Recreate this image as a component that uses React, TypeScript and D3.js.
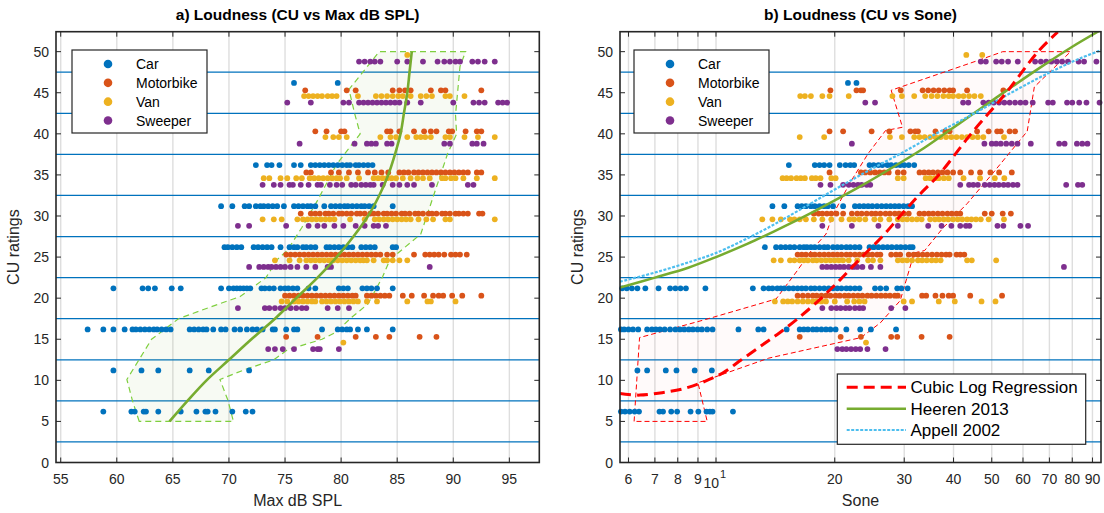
import React from 'react';
import * as d3 from 'd3';

type Row = { cu: number; x: number[] };

const categories = ['Car', 'Motorbike', 'Van', 'Sweeper'];
const catColors = ['#0072bd', '#d95319', '#edb120', '#7e2f8e'];

const cuTicks = [0, 5, 10, 15, 20, 25, 30, 35, 40, 45, 50];
const bandLines = [2.5, 7.5, 12.5, 17.5, 22.5, 27.5, 32.5, 37.5, 42.5, 47.5];
const splTicks = [55, 60, 65, 70, 75, 80, 85, 90, 95];
const soneTicks = [6, 7, 8, 9, 10, 20, 30, 40, 50, 60, 70, 80, 90];

// panel a: max dB SPL per rating row
const carSpl: Row[] = [
  { cu: 46.2, x: [75.8, 79.7] },
  { cu: 36.2, x: [72.4, 73.4, 73.8, 74.5, 75.8, 76.4, 77.3, 77.7, 78.1, 78.5, 78.9, 79.3, 79.7, 80.1, 80.5, 80.8, 81.3, 81.6, 82.0, 82.4, 82.8] },
  { cu: 31.2, x: [69.3, 70.3, 71.4, 71.8, 72.4, 72.8, 73.1, 73.5, 73.9, 74.3, 74.9, 75.8, 76.2, 76.6, 77.0, 77.3, 77.7, 78.5, 79.1, 79.5, 79.9, 80.3, 80.6, 81.0, 81.4, 81.8, 82.1, 82.5, 82.9, 84.6] },
  { cu: 26.2, x: [69.6, 69.9, 70.3, 70.7, 71.1, 72.2, 72.6, 73.0, 73.4, 73.8, 74.6, 75.4, 75.8, 76.1, 76.6, 76.9, 77.3, 77.7, 78.7, 79.0, 79.4, 79.8, 80.2, 80.6, 81.0, 81.8, 82.2, 82.6, 83.0, 84.6, 84.9] },
  { cu: 21.2, x: [59.7, 62.3, 62.8, 63.4, 64.9, 65.7, 69.3, 70.0, 70.4, 70.7, 71.0, 71.3, 71.6, 71.9, 72.9, 73.2, 73.6, 74.0, 74.6, 75.0, 75.3, 75.7, 76.1, 77.1, 77.7, 79.8, 80.2, 80.6, 81.9, 82.3, 82.7, 83.2, 84.6] },
  { cu: 16.2, x: [57.4, 58.8, 59.7, 60.7, 61.4, 61.7, 62.1, 62.5, 62.9, 63.3, 63.6, 64.0, 64.4, 64.8, 66.5, 66.9, 67.3, 67.7, 68.0, 68.6, 69.3, 69.7, 70.5, 71.0, 71.6, 72.1, 72.5, 73.0, 73.9, 74.1, 75.1, 75.8, 76.1, 78.3, 79.7, 80.1, 80.5, 80.8, 81.5, 82.3, 84.6] },
  { cu: 11.2, x: [59.7, 62.2, 63.7, 66.5, 68.2, 71.8] },
  { cu: 6.2, x: [58.8, 61.3, 61.6, 62.4, 62.6, 63.7, 65.7, 67.1, 67.9, 68.1, 68.8, 70.3, 71.5, 72.1] },
];
const motoSpl: Row[] = [
  { cu: 45.3, x: [76.8, 80.5, 81.3, 84.6, 85.2, 85.7, 86.2, 88.0, 88.9, 89.3, 92.5] },
  { cu: 40.3, x: [77.7, 78.7, 80.0, 80.3, 84.1, 84.4, 85.2, 86.5, 87.4, 88.0, 88.5, 89.6, 89.9, 91.1, 92.1, 92.5] },
  { cu: 35.3, x: [76.9, 77.3, 79.1, 79.8, 80.7, 81.5, 82.4, 83.0, 83.6, 84.2, 85.2, 85.6, 86.0, 86.5, 86.9, 87.3, 87.7, 88.1, 88.5, 88.9, 89.3, 89.7, 90.1, 90.5, 90.9, 91.3, 92.1, 92.5] },
  { cu: 30.3, x: [76.4, 77.3, 77.7, 78.1, 78.6, 78.9, 79.3, 79.8, 80.1, 80.5, 80.9, 81.4, 81.7, 82.1, 82.6, 82.9, 83.3, 83.8, 84.1, 84.5, 84.9, 85.4, 85.7, 86.1, 86.6, 86.9, 87.3, 87.8, 88.1, 88.5, 89.0, 89.3, 89.7, 90.2, 90.5, 90.9, 91.3, 92.3, 92.6] },
  { cu: 25.3, x: [75.1, 75.5, 75.9, 76.3, 76.7, 77.1, 77.5, 77.9, 78.3, 78.7, 79.1, 79.5, 79.9, 80.3, 80.7, 81.1, 81.5, 81.9, 82.3, 82.7, 83.1, 83.5, 84.1, 84.6, 86.5, 87.5, 87.9, 88.3, 88.7, 89.2, 89.8, 90.2, 90.6, 91.2] },
  { cu: 20.3, x: [75.0, 75.4, 75.8, 76.2, 76.6, 77.0, 77.4, 77.8, 78.2, 78.6, 79.0, 79.4, 79.8, 80.2, 80.6, 81.0, 81.3, 82.3, 82.7, 83.1, 83.5, 83.9, 84.3, 85.5, 86.3, 87.4, 88.2, 88.7, 89.1, 89.9, 90.8, 92.5] },
  { cu: 15.3, x: [75.1, 77.9, 81.3, 83.1, 84.3, 87.0, 88.5] },
];
const vanSpl: Row[] = [
  { cu: 49.6, x: [85.9] },
  { cu: 44.6, x: [76.7, 77.1, 77.5, 77.9, 78.3, 78.8, 79.2, 79.6, 81.5, 83.1, 83.6, 84.1, 84.6, 85.1, 85.5, 86.2, 87.1, 87.6, 88.1, 89.3, 89.7, 91.0] },
  { cu: 39.6, x: [78.6, 79.3, 79.8, 80.5, 83.5, 84.4, 84.9, 85.9, 86.7, 87.1, 87.5, 88.0, 89.3, 89.7, 91.0, 92.2, 93.7] },
  { cu: 34.6, x: [73.1, 73.6, 74.6, 75.2, 76.0, 76.5, 77.2, 77.6, 78.0, 78.4, 78.8, 79.2, 79.6, 79.9, 80.5, 81.6, 82.9, 83.3, 83.7, 84.1, 84.5, 84.9, 85.5, 86.2, 86.8, 87.3, 87.9, 89.0, 89.3, 89.8, 90.2, 90.9, 92.1, 93.7] },
  { cu: 29.6, x: [73.0, 74.0, 74.7, 76.1, 76.6, 77.0, 77.4, 77.8, 78.2, 78.6, 79.0, 79.4, 80.8, 82.1, 83.0, 83.4, 83.8, 84.2, 84.6, 85.0, 85.4, 85.8, 86.2, 86.9, 87.6, 88.2, 89.3, 89.7, 93.7] },
  { cu: 24.6, x: [74.1, 75.4, 76.3, 76.9, 77.3, 77.7, 78.1, 78.5, 78.9, 79.3, 79.7, 80.1, 80.5, 80.9, 81.3, 81.7, 82.0, 82.3, 82.9, 83.8, 84.1, 84.6, 85.2, 85.9] },
  { cu: 19.6, x: [74.7, 75.2, 75.8, 76.2, 76.6, 77.0, 77.4, 77.7, 78.3, 78.7, 79.1, 79.5, 79.9, 80.3, 80.7, 81.1, 81.5, 82.3, 83.2, 85.9, 87.7, 88.0, 90.2] },
  { cu: 14.6, x: [80.2] },
];
const sweepSpl: Row[] = [
  { cu: 48.8, x: [81.6, 82.1, 82.6, 83.0, 83.5, 85.0, 85.9, 87.3, 88.6, 89.2, 89.7, 90.2, 90.6, 91.7, 92.2, 92.8, 93.7] },
  { cu: 43.8, x: [75.2, 77.3, 80.2, 80.7, 81.6, 82.0, 82.4, 82.8, 83.2, 83.6, 84.0, 84.4, 84.8, 85.2, 85.9, 87.1, 90.0, 91.8, 92.3, 92.8, 94.0, 94.4, 94.8] },
  { cu: 38.8, x: [76.3, 81.2, 82.3, 82.7, 83.1, 84.1, 84.5, 89.2, 89.7, 91.7, 92.1, 92.7] },
  { cu: 33.8, x: [73.0, 74.0, 74.6, 75.4, 75.7, 76.4, 77.1, 77.9, 78.2, 79.0, 79.6, 80.1, 80.9, 81.3, 81.8, 82.2, 82.6, 82.9, 83.7, 84.6, 85.2, 85.9, 86.5, 88.1, 91.3, 91.8] },
  { cu: 28.8, x: [70.8, 71.8, 75.1, 77.1, 77.9, 78.5, 79.4, 80.2, 81.3, 82.1, 82.9, 83.3, 84.0] },
  { cu: 23.8, x: [71.8, 72.7, 73.1, 73.5, 73.8, 74.2, 74.6, 75.0, 75.5, 76.1, 76.9, 77.7, 78.8, 79.1, 87.9] },
  { cu: 18.8, x: [70.8, 73.2, 73.6, 74.1, 74.6, 75.0, 75.5, 76.0, 76.5, 76.9, 78.8, 79.7, 80.7] },
  { cu: 13.8, x: [73.5, 74.1, 74.8, 75.8, 77.5, 77.9, 78.1, 79.8] },
];

// panel b: loudness in sone per rating row
const carSone: Row[] = [
  { cu: 46.2, x: [21.6, 22.7] },
  { cu: 36.2, x: [15.3, 17.8, 18.3, 18.8, 19.4, 20.6, 21.3, 21.9, 22.4, 24.5, 25.1, 25.8, 26.4, 27.2, 27.8, 28.6, 29.3, 30.0, 30.8, 31.8] },
  { cu: 31.2, x: [13.9, 14.9, 16.1, 16.5, 16.9, 17.4, 17.8, 18.3, 18.8, 19.2, 19.8, 21.0, 22.5, 23.1, 23.7, 24.3, 24.9, 25.6, 26.3, 27.0, 27.7, 28.4, 29.1, 29.9, 30.7, 31.4] },
  { cu: 26.2, x: [13.3, 14.2, 14.6, 15.0, 15.4, 15.8, 16.3, 16.7, 17.0, 17.4, 17.8, 18.3, 18.8, 19.2, 19.8, 20.3, 20.8, 21.4, 21.9, 22.5, 23.1, 24.5, 25.1, 25.8, 26.5, 27.2, 27.9, 28.7, 29.4, 30.2, 31.0, 31.5] },
  { cu: 21.2, x: [5.78, 5.94, 6.12, 6.32, 6.62, 7.15, 7.65, 7.89, 8.13, 8.39, 9.40, 12.4, 13.2, 13.6, 13.9, 14.3, 14.6, 14.9, 15.3, 15.7, 16.1, 16.5, 16.9, 17.4, 17.8, 18.3, 18.8, 19.3, 19.8, 20.3, 20.8, 21.4, 21.9, 22.5, 23.1, 25.3, 26.1, 27.0, 28.8, 29.5, 30.6] },
  { cu: 16.2, x: [5.74, 5.85, 6.0, 6.16, 6.35, 6.69, 6.88, 7.04, 7.21, 7.41, 7.65, 7.89, 8.10, 8.31, 8.53, 8.74, 8.98, 9.21, 9.50, 9.80, 11.4, 12.8, 13.2, 15.1, 16.3, 16.7, 17.1, 17.6, 18.0, 18.5, 19.0, 19.5, 20.1, 21.4, 23.2, 24.7, 28.6] },
  { cu: 11.2, x: [6.32, 6.69, 7.46, 7.94, 8.83, 9.76] },
  { cu: 6.2, x: [5.74, 5.88, 6.04, 6.22, 6.38, 7.19, 7.34, 7.70, 7.97, 8.62, 9.02, 9.46, 9.65, 9.80, 11.04] },
];
const motoSone: Row[] = [
  { cu: 45.3, x: [19.5, 22.7, 23.3, 23.6, 29.4, 33.4, 34.5, 35.6, 36.7, 37.9, 39.1, 39.9, 43.3, 53.5] },
  { cu: 40.3, x: [19.4, 21.0, 24.8, 27.5, 31.1, 32.0, 32.5, 36.0, 38.1, 39.1, 45.9, 49.1, 51.6, 52.7, 55.5, 57.3] },
  { cu: 35.3, x: [19.4, 23.3, 23.9, 24.6, 25.3, 26.0, 26.7, 27.4, 28.9, 29.9, 32.8, 33.7, 34.6, 35.5, 36.5, 37.5, 38.6, 39.9, 41.6, 44.3, 46.7, 49.6, 52.2, 56.2] },
  { cu: 30.3, x: [17.7, 18.2, 18.6, 19.1, 19.6, 20.2, 21.0, 22.1, 22.8, 23.4, 24.1, 24.8, 25.4, 26.1, 26.9, 27.6, 28.4, 29.1, 29.9, 30.8, 32.8, 33.7, 34.6, 35.5, 36.5, 37.5, 38.6, 39.6, 40.7, 41.6, 48.0, 50.0, 53.3, 55.9] },
  { cu: 25.3, x: [16.1, 16.5, 16.9, 17.4, 17.8, 18.3, 18.8, 19.3, 19.8, 20.3, 20.8, 21.4, 21.9, 22.5, 23.1, 23.7, 24.3, 24.9, 25.6, 26.1, 27.8, 28.6, 29.3, 30.8, 31.7, 32.5, 33.4, 34.3, 35.3, 36.3, 37.3, 38.3, 39.1, 40.7, 41.6, 42.6] },
  { cu: 20.3, x: [16.1, 16.6, 17.1, 17.6, 18.0, 18.5, 19.0, 19.5, 20.1, 20.6, 21.2, 21.7, 22.3, 22.9, 23.5, 24.2, 24.8, 25.5, 26.2, 26.9, 27.6, 28.4, 28.9, 33.3, 34.1, 36.0, 37.5, 38.9, 39.9, 44.1, 53.1] },
  { cu: 15.3, x: [16.3, 20.7, 23.3, 27.8, 28.8, 33.2, 39.1] },
];
const vanSone: Row[] = [
  { cu: 49.6, x: [43.1, 47.3] },
  { cu: 44.6, x: [16.35, 16.8, 17.4, 18.6, 19.4, 21.7, 28.0, 29.6, 31.8, 33.9, 35.2, 36.4, 37.7, 38.9, 39.9, 41.2, 42.4, 43.8, 45.2, 46.9] },
  { cu: 39.6, x: [16.3, 18.8, 27.6, 29.6, 31.8, 32.8, 33.8, 34.9, 36.0, 37.1, 38.3, 39.5, 40.7, 42.0, 43.3, 44.7, 46.1, 47.6, 53.7] },
  { cu: 34.6, x: [14.75, 15.1, 15.5, 16.0, 16.4, 16.8, 17.5, 17.9, 18.4, 19.6, 20.1, 28.9, 29.9, 34.0, 34.9, 35.9, 36.7, 37.8, 38.9, 42.4, 46.7, 50.9, 53.8] },
  { cu: 29.6, x: [13.1, 13.9, 14.6, 15.4, 15.8, 16.3, 16.9, 17.7, 18.6, 19.6, 20.8, 21.8, 22.4, 23.1, 23.9, 25.2, 26.1, 27.5, 28.9, 29.7, 30.5, 31.4, 32.3, 33.2, 34.9, 35.9, 36.8, 37.8, 38.8, 39.9, 41.0, 42.1, 43.3, 44.4, 45.6, 46.9, 49.1, 53.7] },
  { cu: 24.6, x: [14.0, 14.6, 15.4, 15.8, 16.3, 16.7, 17.1, 17.6, 18.0, 18.5, 19.0, 19.5, 20.0, 20.5, 21.0, 21.7, 22.8, 24.3, 25.0, 26.1, 28.9, 29.7, 30.5, 31.4, 32.5, 33.3, 34.2, 35.2, 36.1, 37.1, 43.3, 44.5, 51.3] },
  { cu: 19.6, x: [14.1, 14.8, 15.2, 15.6, 16.1, 16.6, 17.1, 17.6, 18.0, 18.5, 19.0, 20.0, 21.5, 22.4, 23.1, 23.8, 29.9, 31.4, 36.7, 40.3, 47.1, 51.1] },
  { cu: 14.6, x: [24.0] },
];
const sweepSone: Row[] = [
  { cu: 48.8, x: [46.9, 48.3, 51.3, 53.0, 55.0, 58.2, 64.4, 66.6, 68.7, 70.8, 73.1, 75.4, 78.0, 83.0, 85.7, 92.1] },
  { cu: 43.8, x: [23.9, 25.3, 42.3, 43.6, 47.6, 49.1, 50.6, 52.2, 53.8, 55.5, 57.3, 59.1, 60.9, 63.5, 69.5, 71.4, 77.6, 80.0, 83.3, 86.9, 93.8] },
  { cu: 38.8, x: [22.1, 47.9, 50.0, 51.3, 52.7, 54.4, 56.2, 58.1, 62.8, 74.1, 76.5, 82.2, 84.8, 87.4] },
  { cu: 33.8, x: [18.4, 19.5, 21.0, 21.7, 22.3, 22.9, 23.4, 24.1, 24.6, 41.6, 43.8, 44.9, 46.1, 48.0, 49.4, 50.8, 52.1, 53.6, 55.0, 56.6, 58.1, 77.2, 82.7, 84.8] },
  { cu: 28.8, x: [18.6, 22.1, 25.8, 28.9, 34.5, 37.3, 39.5, 41.6, 43.0, 43.9, 51.7, 53.5, 59.1, 61.8] },
  { cu: 23.8, x: [18.6, 19.1, 19.6, 20.1, 20.6, 21.1, 21.7, 22.3, 22.8, 23.5, 24.7, 26.1, 76.2] },
  { cu: 18.8, x: [18.6, 19.6, 20.2, 20.7, 21.3, 21.8, 22.5, 23.1, 23.6, 27.8, 30.2] },
  { cu: 13.8, x: [20.3, 20.9, 21.4, 22.0, 22.6, 23.2, 24.2, 26.9] },
];

// fitted curves and their intervals
const fitSpl = [64.7, 66.3, 68.0, 70.0, 72.0, 74.1, 76.0, 77.9, 79.6, 81.1, 82.4, 83.4, 84.2, 84.8, 85.3, 85.6, 85.9, 86.1, 86.3];
const fitSplCu = [5, 7.5, 10, 12.5, 15, 17.5, 20, 22.5, 25, 27.5, 30, 32.5, 35, 37.5, 40, 42.5, 45, 47.5, 50];
const bandSpl = [62.0, 61.4, 60.9, 63.1, 65.5, 68.3, 71.0, 72.3, 73.3, 74.3, 75.2, 76.5, 77.9, 79.6, 81.7, 81.2, 80.7, 83.4, 91.1, 90.6, 90.2, 90.3, 89.5, 88.2, 87.1, 84.9, 84.3, 83.7, 82.4, 80.8, 79.6, 78.3, 75.2, 74.0, 71.4, 69.2, 69.9, 70.4];
const bandSplCu = [5.0, 7.5, 10.1, 15.0, 17.5, 18.9, 20.2, 21.5, 22.5, 24.7, 25.8, 28.6, 31.9, 36.3, 40.0, 42.5, 45.4, 50.0, 50.0, 48.2, 42.3, 40.0, 37.6, 32.3, 27.8, 25.3, 24.5, 22.6, 19.3, 17.5, 15.9, 15.0, 13.7, 12.5, 11.3, 10.1, 7.6, 5.0];

const cubicSone = [5.71, 6.4, 7.3, 8.3, 9.4, 10.4, 11.6, 13.1, 14.5, 16.1, 18.2, 20.6, 23.3, 26.4, 29.3, 32.8, 36.7, 44.3, 54.4, 65.5, 73.5];
const cubicCu = [8.4, 8.2, 8.5, 9.0, 9.9, 10.9, 12.5, 14.3, 15.8, 17.5, 19.7, 22.2, 24.9, 27.5, 30.0, 32.6, 35.0, 40.0, 45.0, 50.0, 52.4];
const cubicBandSone = [6.2, 6.4, 9.4, 14.2, 16.1, 17.5, 19.0, 19.8, 21.9, 24.3, 26.9, 29.7, 27.8, 46.6, 53.3, 79.2, 64.1, 61.5, 50.1, 43.3, 37.7, 33.8, 31.8, 29.3, 26.1, 23.3, 13.6, 9.8, 9.0, 9.5];
const cubicBandCu = [5.0, 15.2, 17.4, 19.9, 23.4, 25.9, 27.8, 30.2, 34.1, 37.6, 40.4, 40.8, 45.3, 49.0, 50.0, 50.0, 45.7, 40.3, 35.1, 31.5, 28.6, 25.8, 25.5, 19.7, 17.0, 15.2, 12.7, 10.3, 9.7, 5.0];
const heerenSone = [5.71, 7, 8.5, 10, 12, 14, 17, 20, 24, 28, 33, 39, 46, 55, 66, 80, 95];
const heerenCu = [21.3, 22.5, 23.7, 25.0, 26.6, 28.1, 30.1, 31.9, 34.0, 35.9, 38.0, 40.4, 42.8, 45.4, 48.0, 50.6, 52.7];
const appellSone = [5.71, 7.1, 8.7, 10, 13.1, 16.1, 19.8, 24.3, 29.9, 36.7, 45.2, 55.5, 68.3, 83.9, 95];
const appellCu = [22.0, 23.2, 24.5, 25.5, 28.2, 30.6, 33.1, 35.5, 37.8, 40.2, 42.5, 44.9, 47.2, 49.2, 50.2];

const fitNames = ['Cubic Log Regression', 'Heeren 2013', 'Appell 2002'];

const W = 1104;
const H = 513;
const FONT = '"Liberation Sans", Arial, Helvetica, sans-serif';
const INK = '#262626';
const TOP = 31.7;
const BOTTOM = 462.5;

const y = d3.scaleLinear().domain([0, 52.43]).range([BOTTOM, TOP]);
const xA = d3.scaleLinear().domain([54.58, 97.67]).range([56, 539.3]);
const xB = d3.scaleLog().domain([5.71, 94.6]).range([620, 1101]);

const pathOf = (sx: any, xs: number[], ys: number[], curve: any = d3.curveLinear) =>
  d3.line<[number, number]>().x(d => sx(d[0])).y(d => y(d[1])).curve(curve)(d3.zip(xs, ys) as [number, number][]) || '';

function Dots({ sx, groups }: { sx: any; groups: Row[][] }) {
  return (
    <g>
      {groups.map((rows, ci) =>
        rows.map(row =>
          row.x.map((v, i) => (
            <circle key={`${ci}-${row.cu}-${i}`} cx={sx(v)} cy={y(row.cu)} r={2.9} fill={catColors[ci]} />
          ))
        )
      )}
    </g>
  );
}

function Panel(props: {
  id: string; sx: any; ticks: number[]; left: number; right: number;
  title: string; xLabel: string; logTicks?: boolean; children?: React.ReactNode;
}) {
  const { id, sx, ticks, left, right, title, xLabel, logTicks, children } = props;
  const cx = (left + right) / 2;
  return (
    <g>
      <defs>
        <clipPath id={id}>
          <rect x={left} y={TOP} width={right - left} height={BOTTOM - TOP} />
        </clipPath>
      </defs>
      <rect x={left} y={TOP} width={right - left} height={BOTTOM - TOP} fill="#fff" />
      {ticks.map(t => (
        <line key={t} x1={sx(t)} x2={sx(t)} y1={TOP} y2={BOTTOM} stroke="#dedede" strokeWidth={1.4} />
      ))}
      {bandLines.map(v => (
        <line key={v} x1={left} x2={right} y1={y(v)} y2={y(v)} stroke="#0072bd" strokeWidth={1.2} />
      ))}
      {children}
      <rect x={left} y={TOP} width={right - left} height={BOTTOM - TOP} fill="none" stroke={INK} strokeWidth={1.6} />
      {ticks.map(t => (
        <g key={t} stroke={INK} strokeWidth={1}>
          <line x1={sx(t)} x2={sx(t)} y1={BOTTOM} y2={BOTTOM - 5} />
          <line x1={sx(t)} x2={sx(t)} y1={TOP} y2={TOP + 5} />
        </g>
      ))}
      {cuTicks.map(t => (
        <g key={t} stroke={INK} strokeWidth={1}>
          <line x1={left} x2={left + 5} y1={y(t)} y2={y(t)} />
          <line x1={right} x2={right - 5} y1={y(t)} y2={y(t)} />
        </g>
      ))}
      <g fontSize={14} fill={INK}>
        {ticks.map(t =>
          logTicks && t === 10 ? (
            <g key={t}>
              <text x={sx(t) - 12.5} y={488}>10</text>
              <text x={sx(t) + 4} y={478} fontSize={11}>1</text>
            </g>
          ) : (
            <text key={t} x={sx(t)} y={484} textAnchor="middle">{t}</text>
          )
        )}
        {cuTicks.map(t => (
          <text key={t} x={left - 7} y={y(t) + 5} textAnchor="end">{t}</text>
        ))}
      </g>
      <text x={cx} y={506} fontSize={16} fill={INK} textAnchor="middle">{xLabel}</text>
      <text transform={`translate(${left - 37},${(TOP + BOTTOM) / 2}) rotate(-90)`} fontSize={16} fill={INK} textAnchor="middle">CU ratings</text>
      <text x={cx} y={20} fontSize={15.5} fontWeight="bold" fill="#000" textAnchor="middle">{title}</text>
    </g>
  );
}

function CategoryLegend({ x0 }: { x0: number }) {
  const top = 50;
  const row = d3.scaleLinear().domain([0, 3]).range([top + 14, top + 70.5]);
  return (
    <g>
      <rect x={x0} y={top} width={135} height={83} fill="#fff" stroke={INK} strokeWidth={1.2} />
      {categories.map((c, i) => (
        <g key={c}>
          <circle cx={x0 + 36} cy={row(i)} r={4.3} fill={catColors[i]} />
          <text x={x0 + 64} y={row(i) + 5} fontSize={14} fill="#000">{c}</text>
        </g>
      ))}
    </g>
  );
}

export default function App() {
  const styles = [
    { stroke: '#ff0000', strokeWidth: 3, strokeDasharray: '11,6' },
    { stroke: '#77ac30', strokeWidth: 2.5, strokeDasharray: undefined },
    { stroke: '#4dbeee', strokeWidth: 2.2, strokeDasharray: '3,1.5' },
  ];
  const legRow = d3.scaleLinear().domain([0, 2]).range([387.3, 430]);
  return (
    <svg width={W} height={H} style={{ position: 'absolute', left: 0, top: 0, background: '#fff', fontFamily: FONT }}>
      <Panel id="clipA" sx={xA} ticks={splTicks} left={56} right={539.3} title="a) Loudness (CU vs Max dB SPL)" xLabel="Max dB SPL">
        <path d={pathOf(xA, bandSpl, bandSplCu) + 'Z'} fill="#77ac30" fillOpacity={0.06} stroke="#7fcf3f" strokeWidth={1.2} strokeDasharray="6,4" />
        <Dots sx={xA} groups={[carSpl, motoSpl, vanSpl, sweepSpl]} />
        <path d={pathOf(xA, fitSpl, fitSplCu, d3.curveCatmullRom)} fill="none" stroke="#77ac30" strokeWidth={2.6} clipPath="url(#clipA)" />
        <CategoryLegend x0={72} />
      </Panel>
      <Panel id="clipB" sx={xB} ticks={soneTicks} left={620} right={1101} title="b) Loudness (CU vs Sone)" xLabel="Sone" logTicks>
        <path d={pathOf(xB, cubicBandSone, cubicBandCu) + 'Z'} fill="#ff0000" fillOpacity={0.02} stroke="#ff0000" strokeWidth={1} strokeDasharray="5,3" />
        <Dots sx={xB} groups={[carSone, motoSone, vanSone, sweepSone]} />
        <g clipPath="url(#clipB)" fill="none">
          <path d={pathOf(xB, heerenSone, heerenCu, d3.curveCatmullRom)} {...styles[1]} />
          <path d={pathOf(xB, appellSone, appellCu, d3.curveCatmullRom)} {...styles[2]} />
          <path d={pathOf(xB, cubicSone, cubicCu, d3.curveCatmullRom)} {...styles[0]} />
        </g>
        <CategoryLegend x0={634} />
        <rect x={837.3} y={374} width={248.4} height={70.3} fill="#fff" stroke={INK} strokeWidth={1.2} />
        {fitNames.map((n, i) => (
          <g key={n}>
            <line x1={846.7} x2={906} y1={legRow(i)} y2={legRow(i)} {...styles[i]} />
            <text x={910.5} y={legRow(i) + 6} fontSize={17} fill="#000">{n}</text>
          </g>
        ))}
      </Panel>
    </svg>
  );
}
